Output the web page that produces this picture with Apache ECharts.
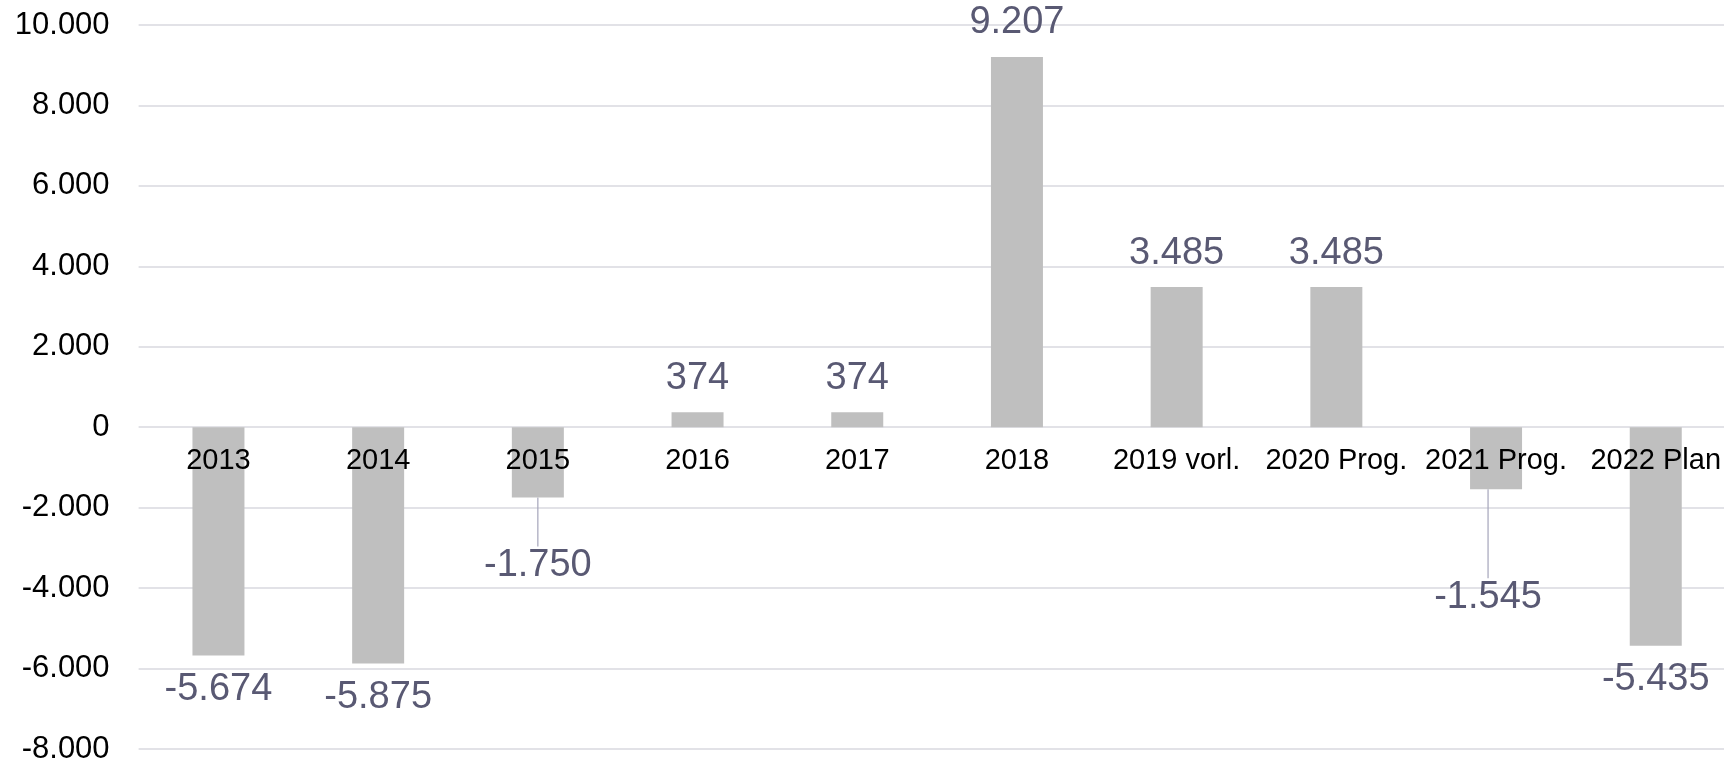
<!DOCTYPE html>
<html>
<head>
<meta charset="utf-8">
<script src="https://cdn.jsdelivr.net/npm/echarts@6/dist/echarts.min.js"></script>
<style>
html,body{margin:0;padding:0;background:#fff;}
#chart{width:1724px;height:761px;}
</style>
</head>
<body>
<div id="chart"></div>
<script>
const categories = ['2013','2014','2015','2016','2017','2018','2019 vorl.','2020 Prog.','2021 Prog.','2022 Plan'];
const values = [-5674, -5875, -1750, 374, 374, 9207, 3485, 3485, -1545, -5435];
const yTicks = { min: -8000, max: 10000, interval: 2000 };

function fmt(v) {
  const s = Math.abs(Math.round(v)).toString();
  const withDots = s.replace(/\B(?=(\d{3})+(?!\d))/g, '.');
  return (v < 0 ? '-' : '') + withDots;
}

const FONT = "'Liberation Sans', Arial, sans-serif";
const chart = echarts.init(document.getElementById('chart'), null, {renderer: 'canvas'});

// labels that are moved away from their bar (with a leader line)
const moved = { 2: {dx: 0, dy: 34}, 8: {dx: -8, dy: 74} };

chart.setOption({
  animation: false,
  backgroundColor: '#ffffff',
  grid: { left: 138.6, width: 1597, top: 25, bottom: 12, containLabel: false, outerBoundsMode: 'none' },
  xAxis: {
    type: 'category',
    data: categories,
    z: 10,
    axisLine: { show: false, onZero: false },
    axisTick: { show: false },
    axisLabel: { interval: 0, color: '#000', fontFamily: FONT, fontSize: 29, margin: 19 },
    splitLine: { show: false }
  },
  yAxis: {
    type: 'value',
    min: yTicks.min, max: yTicks.max, interval: yTicks.interval,
    axisLine: { show: false },
    axisTick: { show: false },
    axisLabel: { color: '#000', fontFamily: FONT, fontSize: 31, margin: 29, formatter: fmt },
    splitLine: { lineStyle: { color: '#d9d9df', width: 1.5 } }
  },
  series: [{
    type: 'bar',
    z: 2,
    data: values.map((v, i) => ({
      value: v,
      label: { position: v >= 0 ? 'top' : 'bottom' },
      labelLine: moved[i] ? { show: true, lineStyle: { color: '#a5a5ba', width: 1.2 } } : { show: false }
    })),
    barWidth: 52,
    itemStyle: { color: '#bfbfbf' },
    label: {
      show: true,
      distance: 15,
      color: '#595973',
      fontFamily: FONT,
      fontSize: 38,
      formatter: p => fmt(p.value)
    },
    labelLayout: function (params) {
      const m = moved[params.dataIndex];
      return m ? { dx: m.dx, dy: m.dy } : {};
    }
  }]
});

// place the category labels along the zero line (as in the reference)
const zeroY = chart.convertToPixel({ yAxisIndex: 0 }, 0);
const bottomY = chart.convertToPixel({ yAxisIndex: 0 }, yTicks.min);
chart.setOption({ xAxis: { offset: zeroY - bottomY } });
</script>
</body>
</html>
